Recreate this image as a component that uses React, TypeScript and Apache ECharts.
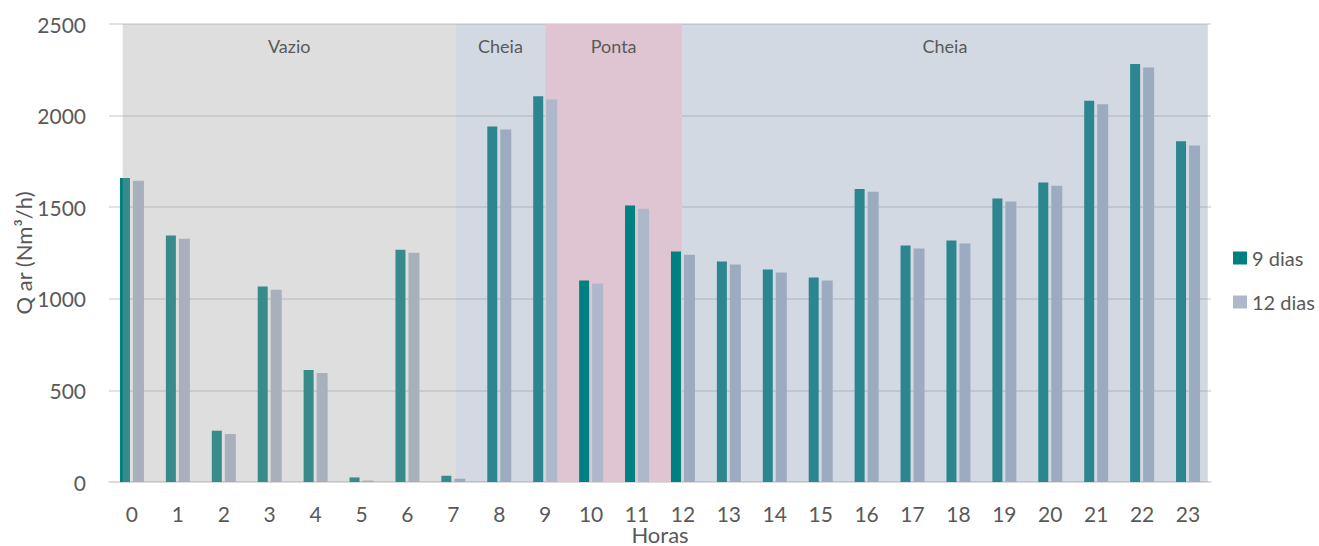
import React, { useEffect, useRef } from "react";
import * as echarts from "echarts";

// Hours of the day (x categories)
const hours: string[] = Array.from({ length: 24 }, (_, i) => String(i));

// Air flow per hour, Nm³/h
const dias9: number[] = [
  1660, 1345, 280, 1067, 612, 25, 1268, 34, 1940, 2106, 1100, 1509,
  1258, 1203, 1160, 1116, 1600, 1291, 1318, 1547, 1635, 2081, 2281, 1860,
];
const dias12: number[] = [
  1644, 1328, 262, 1050, 595, 8, 1252, 18, 1924, 2088, 1083, 1492,
  1241, 1187, 1144, 1100, 1584, 1275, 1302, 1531, 1617, 2062, 2263, 1837,
];

// Tariff periods, expressed in hour positions along the x axis
const overlayBands = [
  { name: "Vazio", from: -0.2, to: 7.05, color: "rgba(159,159,159,0.345)" },
  { name: "Cheia", from: 7.05, to: 9.0, color: "rgba(128,145,174,0.345)" },
  { name: "Cheia", from: 11.98, to: 23.43, color: "rgba(128,145,174,0.345)" },
];
const underBands = [{ name: "Ponta", from: 9.0, to: 11.98, color: "#DFC5D1" }];

const yTicks = { min: 0, max: 2500, interval: 500 };

const FONT = "Lato, 'Open Sans', sans-serif";
const TEXT = "#595959";

function bandArea(bands: typeof overlayBands) {
  return bands.map((b) => [
    {
      name: b.name,
      xAxis: b.from,
      itemStyle: { color: b.color },
    },
    { xAxis: b.to },
  ]);
}

export default function App() {
  const ref = useRef<HTMLDivElement>(null);

  useEffect(() => {
    document.body.style.margin = "0";
    if (!ref.current) return;
    const chart = echarts.init(ref.current, undefined, { renderer: "svg" });

    const bandLabel = {
      show: true,
      position: "insideTop",
      distance: 13,
      color: TEXT,
      fontSize: 18,
      fontFamily: FONT,
    };

    chart.setOption({
      animation: false,
      textStyle: { fontFamily: FONT },
      grid: {
        left: 109,
        right: 108,
        top: 24,
        bottom: 64,
        containLabel: false,
        outerBoundsMode: "none",
      },
      legend: {
        data: ["9 dias", "12 dias"],
        orient: "vertical",
        left: 1228,
        top: 243,
        icon: "rect",
        itemWidth: 14,
        itemHeight: 13,
        itemGap: 24,
        textStyle: { color: TEXT, fontSize: 20, fontFamily: FONT },
      },
      xAxis: [
        {
          type: "category",
          data: hours,
          name: "Horas",
          nameLocation: "middle",
          nameGap: 41,
          nameMoveOverlap: false,
          nameTextStyle: { color: TEXT, fontSize: 22, lineHeight: 22, fontFamily: FONT },
          axisTick: { show: false },
          axisLine: { lineStyle: { color: "#D9D9D9", width: 1.5 } },
          axisLabel: {
            color: TEXT,
            fontSize: 21,
            lineHeight: 20,
            margin: 21,
            fontFamily: FONT,
          },
        },
        {
          type: "value",
          min: -0.5,
          max: 23.5,
          show: false,
        },
      ],
      yAxis: {
        type: "value",
        ...yTicks,
        name: "Q ar (Nm³/h)",
        nameLocation: "middle",
        nameGap: 75,
        nameMoveOverlap: false,
        nameTextStyle: { color: TEXT, fontSize: 22, fontFamily: FONT },
        axisLabel: {
          color: TEXT,
          fontSize: 21,
          margin: 23,
          fontFamily: FONT,
          formatter: (v: number) => String(v),
        },
        splitLine: { lineStyle: { color: "#D9D9D9", width: 1.5 } },
        axisLine: { show: false },
        axisTick: { show: false },
      },
      series: [
        {
          name: "bands-under",
          type: "scatter",
          xAxisIndex: 1,
          data: [],
          z: 1,
          silent: true,
          markArea: {
            z: 1,
            silent: true,
            label: bandLabel,
            data: bandArea(underBands),
          },
        },
        {
          name: "9 dias",
          type: "bar",
          data: dias9,
          barWidth: 10,
          barGap: "30%",
          itemStyle: { color: "#008080" },
          z: 2,
        },
        {
          name: "12 dias",
          type: "bar",
          data: dias12,
          barWidth: 11,
          itemStyle: { color: "#ADB9CA" },
          z: 2,
        },
        {
          name: "bands-over",
          type: "scatter",
          xAxisIndex: 1,
          data: [],
          z: 5,
          silent: true,
          markArea: {
            z: 5,
            silent: true,
            label: bandLabel,
            data: bandArea(overlayBands),
          },
        },
      ],
    });

    return () => chart.dispose();
  }, []);

  return <div ref={ref} style={{ width: 1319, height: 546 }} />;
}
